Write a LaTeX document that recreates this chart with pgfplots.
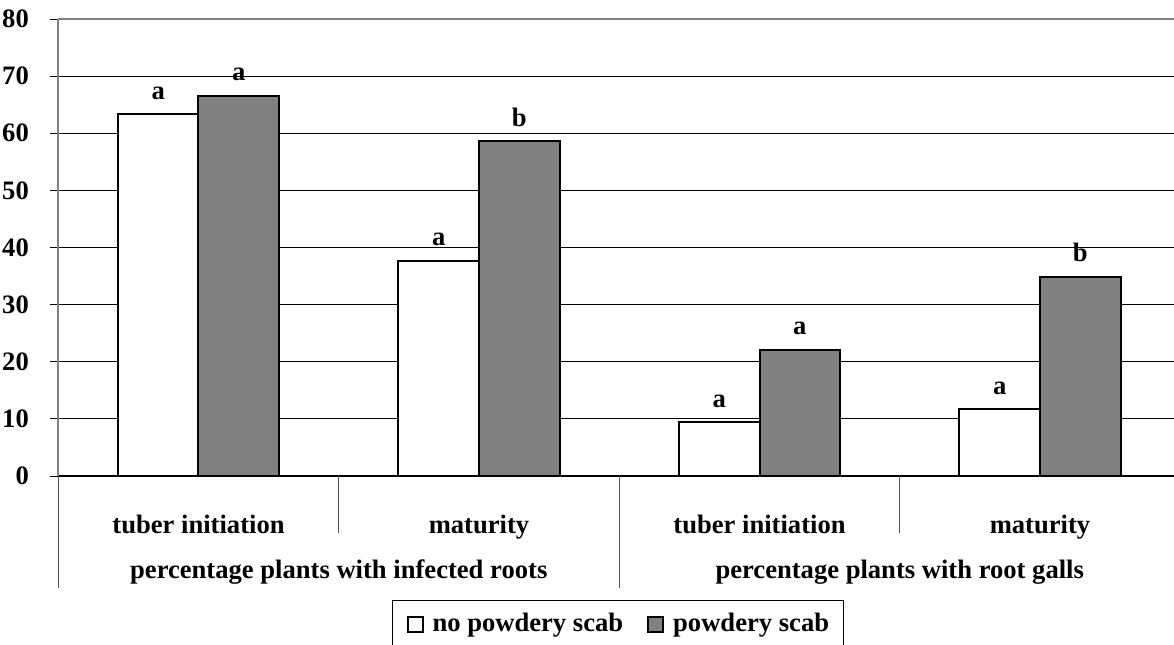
\documentclass[border=0pt]{standalone}
\usepackage{pgfplots}
\pgfplotsset{compat=1.18}
\usepackage{fontspec}
\setmainfont{Liberation Serif}
\newcommand\f{\fontsize{13.3}{16}\selectfont\bfseries}
\definecolor{barGray}{HTML}{808080}
\definecolor{sepGray}{HTML}{555555}
\pgfplotsset{sqlegend/.style={legend image code/.code={\draw[##1] (0pt,-4.75pt) rectangle (7.5pt,2.75pt);}}}
\begin{document}
\begin{tikzpicture}
\begin{axis}[
  at={(0,0)}, anchor=south west,
  scale only axis, width=561pt, height=228.5pt,
  xmin=-0.5, xmax=3.5, ymin=0, ymax=80,
  axis lines*=left,
  x axis line style={black, line width=0.9pt},
  y axis line style={barGray, line width=1pt},
  ytick={0,10,...,80},
  xtick={0,1,2,3},
  xticklabels={tuber initiation, maturity, tuber initiation, maturity},
  x tick style={draw=none},
  y tick style={black, line width=0.5pt},
  tick align=outside, major tick length=4pt,
  ymajorgrids, grid style={black, line width=0.5pt},
  /pgf/number format/assume math mode=true,
  ticklabel style={font=\f},
  yticklabel style={anchor=east, inner sep=0pt, xshift=-10.5pt},
  xticklabel style={anchor=base, inner sep=0pt, yshift=-24.5pt},
  clip=false,
  ybar, bar width=0.287,
  nodes near coords, point meta=explicit symbolic,
  every node near coord/.append style={font=\f, anchor=base, inner sep=0pt, yshift=7.5pt},
  legend columns=2,
  legend style={at={(rel axis cs:0.2975,-0.2713)}, anchor=north west, draw=black, line width=0.5pt,
    inner xsep=7pt, inner ysep=6.5pt, font=\f,
    nodes={inner sep=0pt, text height=9pt, text depth=0pt},
    /tikz/every odd column/.append style={column sep=4.5pt},
    /tikz/every even column/.append style={column sep=12pt}},
]
\addplot[fill=white, draw=black, line width=1pt, bar shift=-0.1435, sqlegend]
  coordinates {(0,63.3)[a] (1,37.7)[a] (2,9.4)[a] (3,11.7)[a]};
\addplot[fill=barGray, draw=black, line width=1pt, bar shift=0.1435, sqlegend]
  coordinates {(0,66.6)[a] (1,58.6)[b] (2,22.1)[a] (3,34.9)[b]};
\legend{no powdery scab, powdery scab}
\draw[barGray, line width=1pt] (rel axis cs:0,1) -- (rel axis cs:1,1);
\draw[sepGray, line width=0.6pt] (axis cs:-0.5,0) -- ++(0pt,-56pt);
\draw[sepGray, line width=0.6pt] (axis cs:0.5,0) -- ++(0pt,-28.5pt);
\draw[sepGray, line width=0.6pt] (axis cs:1.5,0) -- ++(0pt,-56pt);
\draw[sepGray, line width=0.6pt] (axis cs:2.5,0) -- ++(0pt,-28.5pt);
\node[anchor=base, yshift=-51pt, font=\f] at (axis cs:0.5,0) {percentage plants with infected roots};
\node[anchor=base, yshift=-51pt, font=\f] at (axis cs:2.5,0) {percentage plants with root galls};
\end{axis}
\pgfresetboundingbox
\path[use as bounding box] (-29.125pt,-84pt) rectangle (557.875pt,238pt);
\end{tikzpicture}
\end{document}
